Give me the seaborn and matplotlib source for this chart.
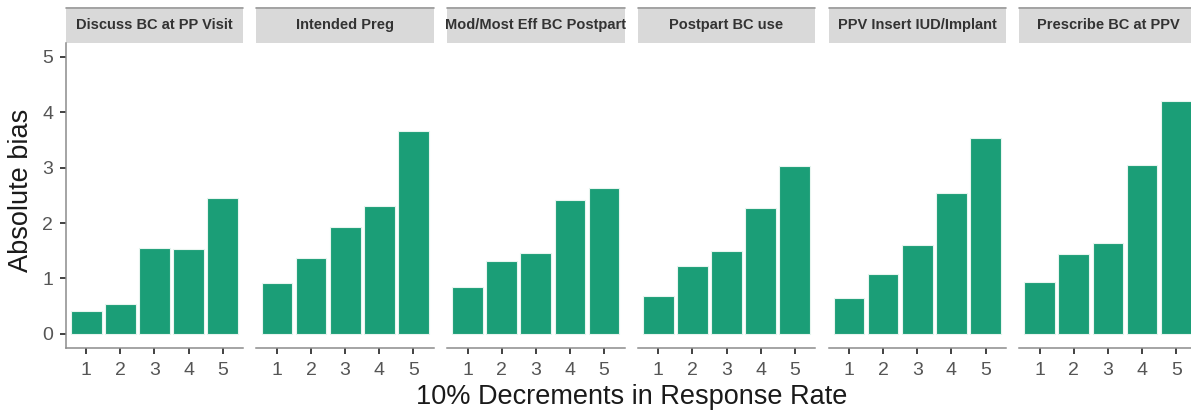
import matplotlib
matplotlib.use("Agg")
import matplotlib.pyplot as plt
from matplotlib.patches import Rectangle
from matplotlib.lines import Line2D
import pandas as pd
import seaborn as sns

# Absolute bias by outcome for 10% decrements in response rate
outcomes = [
    "Discuss BC at PP Visit",
    "Intended Preg",
    "Mod/Most Eff BC Postpart",
    "Postpart BC use",
    "PPV Insert IUD/Implant",
    "Prescribe BC at PPV",
]
decrements = ["1", "2", "3", "4", "5"]
bias_discuss = [0.41, 0.54, 1.55, 1.53, 2.46]
bias_intended = [0.91, 1.37, 1.92, 2.30, 3.66]
bias_modmost = [0.85, 1.32, 1.46, 2.42, 2.63]
bias_postpart = [0.69, 1.22, 1.49, 2.28, 3.03]
bias_insert = [0.65, 1.08, 1.60, 2.55, 3.54]
bias_prescribe = [0.93, 1.45, 1.64, 3.05, 4.21]
y_ticks = [0, 1, 2, 3, 4, 5]

series = [bias_discuss, bias_intended, bias_modmost,
          bias_postpart, bias_insert, bias_prescribe]
df = pd.concat(
    [pd.DataFrame({"outcome": o, "decrement": decrements, "bias": v})
     for o, v in zip(outcomes, series)],
    ignore_index=True,
)

sns.set_theme(style="white")
plt.rcParams["font.family"] = ["Liberation Sans", "DejaVu Sans"]

W, H = 1191, 415
fig = plt.figure(figsize=(W / 100, H / 100), dpi=100)

bar_color = "#1B9E77"
axis_gray = "#8C8C8C"
tick_gray = "#555555"

panel_left0 = 65.7
panel_step = 190.7
panel_w = 177.5
panel_top = 43.0
panel_bottom = 347.7
strip_top = 7.5
panel_h = panel_bottom - panel_top

for i, name in enumerate(outcomes):
    left = panel_left0 + i * panel_step
    ax = fig.add_axes([left / W, (H - panel_bottom) / H, panel_w / W, panel_h / H])
    sub = df[df["outcome"] == name]
    sns.barplot(data=sub, x="decrement", y="bias", order=decrements,
                color=bar_color, saturation=1, width=0.9,
                edgecolor="#E8F5EF", linewidth=0.8, errorbar=None, ax=ax)
    ax.set_xlim(-0.6, 4.6)
    ax.set_ylim(-0.25, 5.25)
    ax.set_xlabel("")
    ax.set_ylabel("")
    for s in ["top", "right"]:
        ax.spines[s].set_visible(False)
    ax.spines["bottom"].set_color(axis_gray)
    ax.spines["bottom"].set_linewidth(1.1)
    ax.tick_params(axis="x", length=4, width=1.3, color="#333333",
                   labelsize=14, labelcolor=tick_gray, pad=6, bottom=True)
    if i == 0:
        ax.set_yticks(y_ticks)
        ax.spines["left"].set_color(axis_gray)
        ax.spines["left"].set_linewidth(1.1)
        ax.tick_params(axis="y", length=4, width=1.3, color="#333333",
                       labelsize=14, labelcolor=tick_gray, pad=5, left=True)
    else:
        ax.spines["left"].set_visible(False)
        ax.set_yticks([])

    # facet strip
    strip_h = (panel_top - strip_top) / panel_h
    ax.add_patch(Rectangle((0, 1.0), 1, strip_h, transform=ax.transAxes,
                           facecolor="#D9D9D9", edgecolor="none", clip_on=False))
    ax.add_line(Line2D([0, 1], [1 + strip_h, 1 + strip_h], transform=ax.transAxes,
                       color="#9A9A9A", linewidth=1.2, clip_on=False))
    ax.text(0.5, 1 + strip_h / 2, name, transform=ax.transAxes,
            ha="center", va="center", fontsize=10.5, fontweight="bold",
            color="#333333")

fig.text(21 / W, 1 - 190 / H, "Absolute bias", rotation=90, ha="center",
         va="center", fontsize=19.5, color="#1A1A1A")
fig.text(632 / W, 1 - 397 / H, "10% Decrements in Response Rate", ha="center",
         va="center", fontsize=19.5, color="#1A1A1A")

fig.savefig("out.png", dpi=100, facecolor="white")
